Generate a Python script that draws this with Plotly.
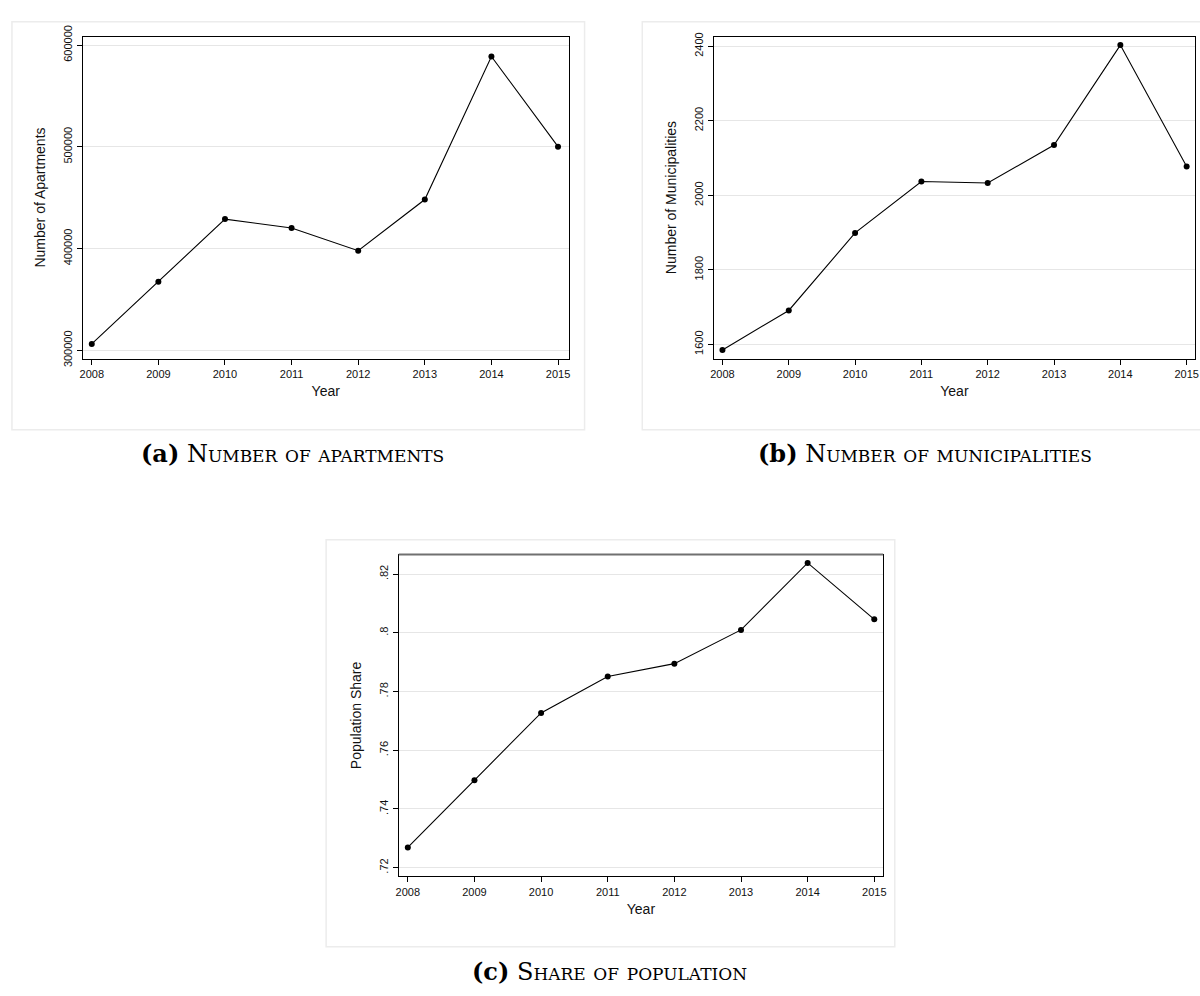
import plotly.graph_objects as go

# ---------------- data ----------------
years = [2008, 2009, 2010, 2011, 2012, 2013, 2014, 2015]
apartments = [306400, 367400, 429000, 420300, 397900, 448200, 588800, 500200]
municipalities = [1585, 1691, 1899, 2037, 2033, 2135, 2403, 2077]
population_share = [0.7269, 0.7498, 0.7727, 0.7851, 0.7895, 0.8010, 0.8238, 0.8046]

apt_ticks = [300000, 400000, 500000, 600000]
apt_ticktext = ["300000", "400000", "500000", "600000"]
mun_ticks = [1600, 1800, 2000, 2200, 2400]
mun_ticktext = ["1600", "1800", "2000", "2200", "2400"]
pop_ticks = [0.72, 0.74, 0.76, 0.78, 0.80, 0.82]
pop_ticktext = [".72", ".74", ".76", ".78", ".8", ".82"]
year_ticktext = [str(y) for y in years]

titles_y = ["Number of Apartments", "Number of Municipalities", "Population Share"]
caption_tags = ["(a)", "(b)", "(c)"]
caption_texts = ["Number of apartments", "Number of municipalities", "Share of population"]

# ---------------- layout helpers ----------------
W, H = 1200, 996


def xd(x0, x1):
    return [x0 / W, x1 / W]


def yd(top, bottom):
    return [1 - bottom / H, 1 - top / H]


fig = go.Figure()
series = [apartments, municipalities, population_share]
for i, vals in enumerate(series):
    ax = "" if i == 0 else str(i + 1)
    fig.add_trace(go.Scatter(
        x=years, y=vals, mode="lines+markers",
        line=dict(color="black", width=1.1),
        marker=dict(color="black", size=6),
        xaxis="x" + ax, yaxis="y" + ax, showlegend=False,
        hoverinfo="x+y",
    ))

tickfont = dict(family="Liberation Sans, Arial, sans-serif", size=11, color="#111")
titlefont = dict(family="Liberation Sans, Arial, sans-serif", size=14, color="#111")

common_x = dict(
    tickmode="array", tickvals=years, ticktext=year_ticktext,
    showgrid=False, zeroline=False, showline=True, linecolor="black", linewidth=1,
    mirror=True, ticks="outside", ticklen=5, tickcolor="black", tickwidth=1,
    tickfont=tickfont, title=dict(text="Year", font=titlefont, standoff=7),
)
common_y = dict(
    tickmode="array", showgrid=True, gridcolor="#e6e6e6", gridwidth=1,
    zeroline=False, showline=True, linecolor="black", linewidth=1, mirror=True,
    ticks="outside", ticklen=5, tickcolor="black", tickwidth=1, tickangle=-90,
    tickfont=tickfont,
)

fig.update_layout(
    width=W, height=H, margin=dict(l=0, r=0, t=0, b=0),
    paper_bgcolor="white", plot_bgcolor="white",
    xaxis=dict(common_x, domain=xd(79.3, 568), range=[2007.866, 2015.16], anchor="y"),
    yaxis=dict(common_y, domain=yd(26, 354.3), range=[292000, 608400], anchor="x",
               tickvals=apt_ticks, ticktext=apt_ticktext,
               title=dict(text=titles_y[0], font=titlefont, standoff=13)),
    xaxis2=dict(common_x, domain=xd(714, 1198), range=[2007.87, 2015.126], anchor="y2"),
    yaxis2=dict(common_y, domain=yd(26, 354.3), range=[1562, 2426], anchor="x2",
                tickvals=mun_ticks, ticktext=mun_ticktext,
                title=dict(text=titles_y[1], font=titlefont, standoff=13)),
    xaxis3=dict(common_x, domain=xd(397, 884.3), range=[2007.863, 2015.133], anchor="y3",
                mirror=False),
    yaxis3=dict(common_y, domain=yd(554, 882.3), range=[0.717, 0.8267], anchor="x3",
                tickvals=pop_ticks, ticktext=pop_ticktext,
                title=dict(text=titles_y[2], font=titlefont, standoff=13)),
)

# outer light-grey frames of each graph
frames = [(8, 11, 584, 427), (642, 11, 1215, 427), (324, 539, 896, 954)]
for (x0, y0, x1, y1) in frames:
    fig.add_shape(type="rect", xref="paper", yref="paper",
                  x0=x0 / W, x1=x1 / W, y0=1 - y1 / H, y1=1 - y0 / H,
                  line=dict(color="#ececec", width=1.5), fillcolor="rgba(0,0,0,0)", layer="below")

# grey top border of graph (c)
fig.add_shape(type="line", xref="x3 domain", yref="y3 domain", x0=0, x1=1, y0=1, y1=1,
              line=dict(color="#707070", width=2))

# captions
cap_pos = [(290, 451), (926, 451), (609, 979)]
for tag, txt, (cx, cy) in zip(caption_tags, caption_texts, cap_pos):
    fig.add_annotation(
        xref="paper", yref="paper", x=cx / W, y=1 - cy / H,
        xanchor="center", yanchor="middle", showarrow=False,
        text="<b><span style='font-variant:normal'>" + tag + "</span></b> " + txt,
        font=dict(family="DejaVu Serif, serif", size=24, color="black", variant="small-caps"),
    )

fig.write_html("out.html")
